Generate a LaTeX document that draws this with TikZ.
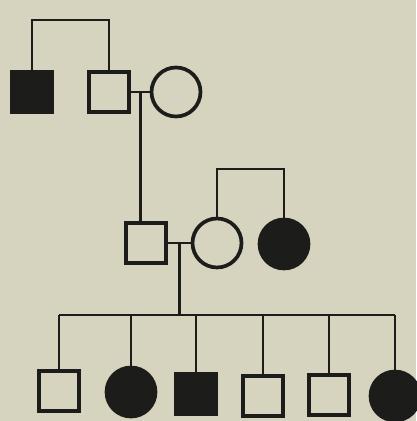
\documentclass[tikz,border=0pt]{standalone}
\usetikzlibrary{calc}
\definecolor{paper}{RGB}{214,211,190}
\definecolor{ink}{RGB}{28,28,26}
\tikzset{
  male/.style={draw=ink,line width=2.6pt,rectangle,minimum size=0.8cm,inner sep=0pt},
  female/.style={draw=ink,line width=2.1pt,circle,minimum size=0.98cm,inner sep=0pt},
  affected/.style={fill=ink},
  line/.style={draw=ink,line width=1.6pt}
}
\begin{document}
\begin{tikzpicture}[x=0.02cm,y=-0.02cm]
  \useasboundingbox (0,0) rectangle (416,421);
  \fill[paper] (0,0) rectangle (416,421);
  % generation I
  \node[male,affected] (I1) at (32,92) {};
  \node[male] (I2) at (109,92) {};
  \node[female] (I3) at (176,92) {};
  % generation II
  \node[male] (II1) at (146,243) {};
  \node[female] (II2) at (217,243) {};
  \node[female,affected] (II3) at (284,244) {};
  % generation III
  \node[male] (III1) at (59,391) {};
  \node[female,affected] (III2) at (131,392) {};
  \node[male,affected] (III3) at (196,394) {};
  \node[male] (III4) at (263,396) {};
  \node[male] (III5) at (329,395) {};
  \node[female,affected] (III6) at (395,396) {};
  \coordinate (top1) at (0,20);
  \coordinate (top2) at (0,169);
  \coordinate (sib3) at (0,315);
  % sibships
  \draw[line] (I1.north) -- (I1.north |- top1) -| (I2.north);
  \draw[line] (II2.north) -- (II2.north |- top2) -| (II3.north);
  \draw[line] (III1.north |- sib3) -- (III6.north |- sib3);
  \foreach \i in {1,...,6}
    \draw[line] (III\i.north) -- (III\i.north |- sib3);
  % marriages
  \draw[line] (I2.east) -- (I3.west);
  \coordinate (m1) at ($(I2.east)!0.5!(I3.west)$);
  \draw[line] (m1) -- (m1 |- II1.north);
  \draw[line] (II1.east) -- (II2.west);
  \coordinate (m2) at ($(II1.east)!0.5!(II2.west)$);
  \draw[line] (m2) -- (m2 |- sib3);
\end{tikzpicture}
\end{document}
